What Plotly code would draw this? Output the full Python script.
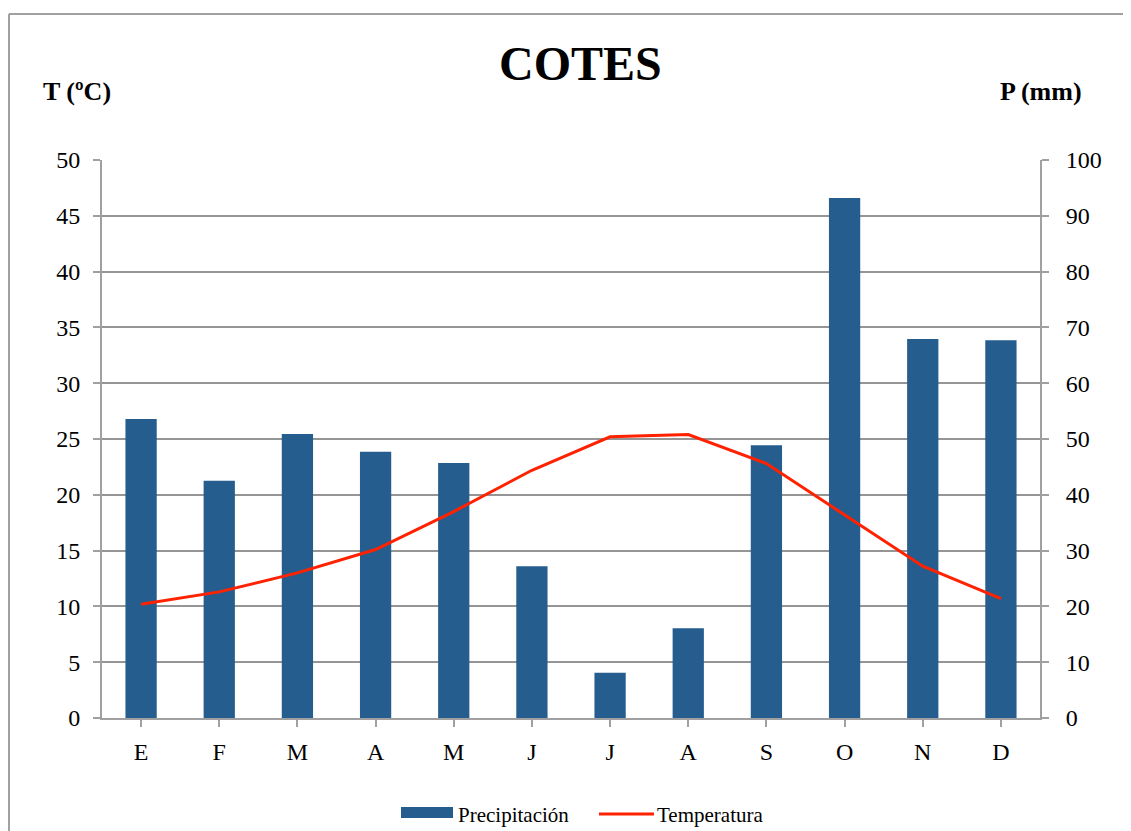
import plotly.graph_objects as go

months = ["E", "F", "M", "A", "M", "J", "J", "A", "S", "O", "N", "D"]
precip = [53.6, 42.5, 50.9, 47.7, 45.7, 27.2, 8.1, 16.1, 48.9, 93.2, 67.9, 67.7]
temp = [10.2, 11.3, 13.0, 15.1, 18.5, 22.2, 25.2, 25.4, 22.8, 18.2, 13.6, 10.7]
t_ticks = list(range(0, 51, 5))
p_ticks = list(range(0, 101, 10))

x = list(range(len(months)))
FONT = "Liberation Serif"
OFF = 8  # page body margin
W, H = 1131, 831
# plot area in page coordinates: x 102..1040, y 160..718
L = 102 - OFF
T = 160 - OFF
R = W - (1040 - OFF)
B = H - (718 - OFF)
pw, ph = W - L - R, H - T - B

def px(xp):
    return (xp - OFF - L) / pw

def py(yp):
    return (H - B - (yp - OFF)) / ph

BLUE = "#265D8F"
RED = "#FF2200"
GRAY = "#A0A0A0"

fig = go.Figure()
fig.add_trace(go.Bar(x=x, y=precip, name="Precipitación", yaxis="y",
                     marker=dict(color=BLUE, line=dict(width=0)), width=0.4,
                     showlegend=False))
fig.add_trace(go.Scatter(x=x, y=temp, name="Temperatura", mode="lines", yaxis="y2",
                         line=dict(color=RED, width=3), showlegend=False))

fig.update_layout(
    width=W, height=H,
    margin=dict(l=L, r=R, t=T, b=B, autoexpand=False),
    plot_bgcolor="white", paper_bgcolor="white",
    font=dict(family=FONT, size=24, color="black"),
    showlegend=False,
    xaxis=dict(tickmode="array", tickvals=x, ticktext=months, range=[-0.5, 11.5],
               showline=True, linecolor=GRAY, linewidth=2,
               ticks="outside", ticklen=7, tickcolor=GRAY, tickwidth=2,
               tickson="boundaries", showgrid=False, zeroline=False,
               ticklabelstandoff=4, tickfont=dict(size=24)),
    # precipitation axis (right) carries the gridlines
    yaxis=dict(range=[0, 100], tickvals=p_ticks, side="right",
               showline=True, linecolor=GRAY, linewidth=2, ticks="outside",
               ticklen=7, tickcolor=GRAY, tickwidth=2,
               showgrid=True, gridcolor="#959595", gridwidth=2,
               zeroline=False, ticklabelstandoff=12, tickfont=dict(size=24)),
    # temperature axis (left), overlaid so the line sits on top of the bars
    yaxis2=dict(range=[0, 50], tickvals=t_ticks, overlaying="y", side="left",
                showline=True, linecolor=GRAY, linewidth=2, ticks="outside",
                ticklen=7, tickcolor=GRAY, tickwidth=2, showgrid=False,
                zeroline=False, ticklabelstandoff=8, tickfont=dict(size=24)),
)

fig.add_annotation(text="<b>COTES</b>", x=px(580), y=py(63), xref="paper", yref="paper",
                   showarrow=False, font=dict(family=FONT, size=48, color="black"),
                   xanchor="center", yanchor="middle")
fig.add_annotation(text="<b>T (ºC)</b>", x=px(41), y=py(92), xref="paper", yref="paper",
                   showarrow=False, font=dict(family=FONT, size=26, color="black"),
                   xanchor="left", yanchor="middle")
fig.add_annotation(text="<b>P (mm)</b>", x=px(998), y=py(92), xref="paper", yref="paper",
                   showarrow=False, font=dict(family=FONT, size=26, color="black"),
                   xanchor="left", yanchor="middle")

# legend (drawn manually to match the wide swatches)
fig.add_shape(type="rect", xref="paper", yref="paper", x0=px(401), x1=px(453),
              y0=py(818), y1=py(807), fillcolor=BLUE, line=dict(width=0))
fig.add_annotation(text=fig.data[0].name, x=px(456), y=py(815), xref="paper", yref="paper",
                   showarrow=False, font=dict(family=FONT, size=21, color="black"),
                   xanchor="left", yanchor="middle")
fig.add_shape(type="line", xref="paper", yref="paper", x0=px(599), x1=px(654),
              y0=py(814), y1=py(814), line=dict(color=RED, width=3))
fig.add_annotation(text=fig.data[1].name, x=px(655), y=py(815), xref="paper", yref="paper",
                   showarrow=False, font=dict(family=FONT, size=21, color="black"),
                   xanchor="left", yanchor="middle")

# outer frame (top and left edges)
fig.add_shape(type="line", xref="paper", yref="paper", x0=px(9), x1=px(1140),
              y0=py(14), y1=py(14), line=dict(color=GRAY, width=2))
fig.add_shape(type="line", xref="paper", yref="paper", x0=px(9), x1=px(9),
              y0=py(14), y1=py(840), line=dict(color=GRAY, width=2))

fig.write_html("out.html")
